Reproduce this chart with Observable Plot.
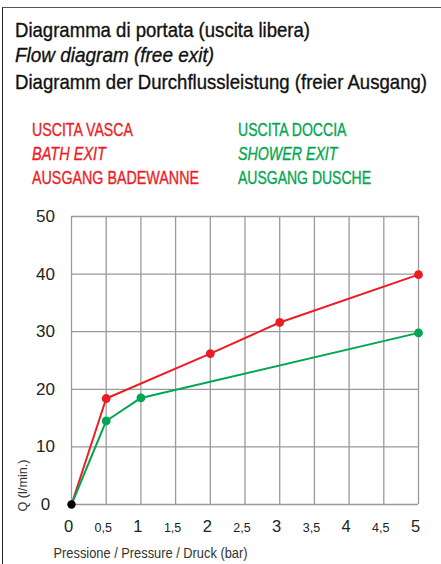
<!DOCTYPE html>
<html>
<head>
<meta charset="utf-8">
<script src="https://cdn.jsdelivr.net/npm/d3@7"></script>
<script src="https://cdn.jsdelivr.net/npm/@observablehq/plot@0.6"></script>
<style>
  body { margin: 0; background: #fff; }
  #wrap { position: relative; width: 441px; height: 564px; overflow: hidden; background: #fff; }
  #frame { position: absolute; left: 2px; top: 7px; width: 460px; height: 600px;
           border-top: 1.5px solid #555; border-left: 1.5px solid #222; }
  .t { position: absolute; white-space: nowrap; line-height: 1;
       font-family: "Liberation Sans", Arial, sans-serif;
       transform-origin: 0 0; -webkit-text-stroke: 0.35px currentColor; }
  .title { font-size: 21px; color: #111; left: 15px; }
  .leg { font-size: 18.5px; }
  .red { color: #ed1c24; left: 32px; }
  .green { color: #00a651; left: 238px; }
  .it { font-style: italic; }
  #chart { position: absolute; left: 0; top: 195px; }
</style>
</head>
<body>
<div id="wrap">
  <div id="frame"></div>
  <div id="titles"></div>
  <div id="chart"></div>
</div>
<script>
// ---- data ----
const titleLines = [
  "Diagramma di portata (uscita libera)",
  "Flow diagram (free exit)",
  "Diagramm der Durchflussleistung (freier Ausgang)"
];
const bathLabels = ["USCITA VASCA", "BATH EXIT", "AUSGANG BADEWANNE"];
const showerLabels = ["USCITA DOCCIA", "SHOWER EXIT", "AUSGANG DUSCHE"];

const xMajorTicks = [0, 1, 2, 3, 4, 5];
const xMinorTicks = [0.5, 1.5, 2.5, 3.5, 4.5];
const yTicks = [0, 10, 20, 30, 40, 50];

const bathPressure = [0, 0.5, 2, 3, 5];
const bathFlow = [0, 18.4, 26.2, 31.6, 39.9];
const showerPressure = [0, 0.5, 1, 5];
const showerFlow = [0, 14.5, 18.5, 29.8];
const originPoint = [{p: 0, q: 0}];

const xLabel = "Pressione / Pressure / Druck (bar)";
const yLabel = "Q (l/min.)";

const RED = "#ed1c24", GREEN = "#00a651";

// ---- titles & legend (HTML), condensed to the reference widths ----
const titles = document.getElementById("titles");
function addLine(text, cls, top, targetWidth) {
  const d = document.createElement("div");
  d.className = "t " + cls;
  d.style.top = top + "px";
  d.textContent = text;
  titles.appendChild(d);
  const w = d.getBoundingClientRect().width;
  if (w > 0) d.style.transform = `scaleX(${targetWidth / w})`;
}
const titleTops = [19, 44, 70.5];
const titleWidths = [295, 199, 412];
titleLines.forEach((s, i) => addLine(s, "title" + (i === 1 ? " it" : ""), titleTops[i], titleWidths[i]));
const legTops = [121, 145.4, 169.4];
const bathWidths = [101, 74, 167];
const showerWidths = [108.5, 99.5, 133];
bathLabels.forEach((s, i) => addLine(s, "leg red" + (i === 1 ? " it" : ""), legTops[i], bathWidths[i]));
showerLabels.forEach((s, i) => addLine(s, "leg green" + (i === 1 ? " it" : ""), legTops[i], showerWidths[i]));

// ---- chart ----
const bath = bathPressure.map((p, i) => ({p, q: bathFlow[i]}));
const shower = showerPressure.map((p, i) => ({p, q: showerFlow[i]}));
const allX = [...xMajorTicks, ...xMinorTicks].sort((a, b) => a - b);
const comma = d => String(d).replace(".", ",");

const chart = Plot.plot({
  width: 441,
  height: 369,
  marginTop: 21,
  marginBottom: 60,
  marginLeft: 71,
  marginRight: 23,
  style: {fontFamily: "'Liberation Sans', Arial, sans-serif", background: "transparent", color: "#222"},
  x: {domain: [0, 5]},
  y: {domain: [0, 50]},
  marks: [
    Plot.gridX(allX, {stroke: "#9a9a9a", strokeOpacity: 1, strokeWidth: 1.3}),
    Plot.gridY(yTicks, {stroke: "#9a9a9a", strokeOpacity: 1, strokeWidth: 1.3}),
    Plot.axisY(yTicks, {tickSize: 0, tickPadding: 26, textAnchor: "middle", fontSize: 17, label: null, fill: "#222"}),
    Plot.axisX(xMajorTicks, {tickSize: 0, tickPadding: 27, lineAnchor: "bottom", fontSize: 16.5, label: null, dx: -3, fill: "#222"}),
    Plot.axisX(xMinorTicks, {tickSize: 0, tickPadding: 27, lineAnchor: "bottom", fontSize: 12.5, label: null, dx: -3, tickFormat: comma, fill: "#222"}),
    Plot.text([yLabel], {frameAnchor: "bottom-left", rotate: -90, textAnchor: "start", lineAnchor: "middle",
      dx: -49, dy: 7, fontSize: 13, fill: "#333", className: "ylab"}),
    Plot.text([xLabel], {frameAnchor: "bottom-left", textAnchor: "start", lineAnchor: "middle",
      dx: -18, dy: 49, fontSize: 14, fill: "#333", className: "xlab"}),
    Plot.line(bath, {x: "p", y: "q", stroke: RED, strokeWidth: 2}),
    Plot.line(shower, {x: "p", y: "q", stroke: GREEN, strokeWidth: 2}),
    Plot.dot(bath.slice(1), {x: "p", y: "q", r: 4.4, fill: RED, stroke: "none"}),
    Plot.dot(shower.slice(1), {x: "p", y: "q", r: 4.4, fill: GREEN, stroke: "none"}),
    Plot.dot(originPoint, {x: "p", y: "q", r: 4.2, fill: "#000", stroke: "none"})
  ]
});
document.getElementById("chart").appendChild(chart);
// condense the axis titles to the reference lengths
chart.querySelectorAll(".xlab text").forEach(t => {
  t.setAttribute("textLength", 194);
  t.setAttribute("lengthAdjust", "spacingAndGlyphs");
});
chart.querySelectorAll(".ylab text").forEach(t => {
  t.setAttribute("textLength", 52);
  t.setAttribute("lengthAdjust", "spacingAndGlyphs");
});
</script>
</body>
</html>
